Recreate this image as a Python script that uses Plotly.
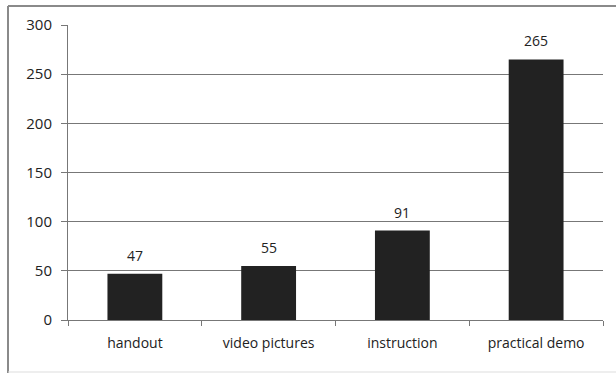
import plotly.graph_objects as go

categories = ["handout", "video pictures", "instruction", "practical demo"]
values = [47, 55, 91, 265]
y_ticks = [0, 50, 100, 150, 200, 250, 300]

W, H = 616, 375
L, R, T, B = 68, 13, 25, 55
pw, ph = W - L - R, H - T - B
FONT = "Open Sans"

fig = go.Figure(
    go.Bar(
        x=categories,
        y=values,
        marker=dict(color="#222222", line=dict(width=0)),
        width=0.41,
    )
)

# value labels above each bar
for c, v in zip(categories, values):
    fig.add_annotation(
        x=c, y=v, text=str(v), showarrow=False,
        yanchor="bottom", yshift=7,
        font=dict(size=14, color="#222222", family=FONT),
    )

# outer frame: left, top, and a faint bottom edge
frame = "#8a8a8a"
def px_x(p):
    return (p - L) / pw
def px_y(p):
    return (H - B - p) / ph
fig.add_shape(type="line", xref="paper", yref="paper",
              x0=px_x(8), x1=px_x(8), y0=px_y(6), y1=px_y(373),
              line=dict(color=frame, width=2))
fig.add_shape(type="line", xref="paper", yref="paper",
              x0=px_x(8), x1=px_x(620), y0=px_y(6), y1=px_y(6),
              line=dict(color=frame, width=2))
fig.add_shape(type="line", xref="paper", yref="paper",
              x0=px_x(8), x1=px_x(620), y0=px_y(372), y1=px_y(372),
              line=dict(color="#dddddd", width=1))

fig.update_layout(
    width=W, height=H,
    margin=dict(l=L, r=R, t=T, b=B),
    paper_bgcolor="white", plot_bgcolor="white",
    showlegend=False,
    font=dict(family=FONT, size=14, color="#222222"),
    xaxis=dict(
        type="category",
        showgrid=False,
        showline=True, linecolor="#777777", linewidth=1,
        ticks="outside", tickson="boundaries", ticklen=5, tickcolor="#777777",
        tickfont=dict(size=14),
        ticklabelstandoff=10,
    ),
    yaxis=dict(
        range=[0, 300],
        tickvals=y_ticks,
        showgrid=True, gridcolor="#777777", gridwidth=1,
        showline=True, linecolor="#777777", linewidth=1,
        ticks="outside", ticklen=6, tickcolor="#777777",
        tickfont=dict(size=15),
        ticklabelstandoff=6,
        zeroline=False,
    ),
)

fig.write_html("out.html")
